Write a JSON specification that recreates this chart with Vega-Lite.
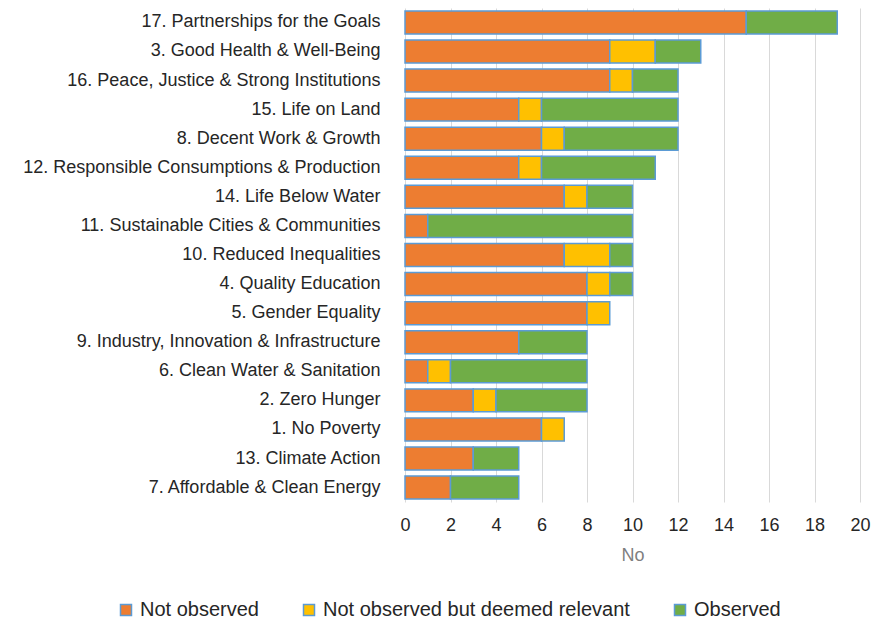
{
  "$schema": "https://vega.github.io/schema/vega-lite/v6.json",
  "autosize": {"type": "none"},
  "padding": {"left": 405, "top": 8, "right": 12, "bottom": 120},
  "width": 455,
  "height": 494,
  "background": "white",
  "config": {
    "font": "Liberation Sans",
    "view": {"stroke": null}
  },
  "data": {
    "values": [
      {"goal": "17. Partnerships for the Goals", "status": "Not observed", "k": 1, "n": 15},
      {"goal": "17. Partnerships for the Goals", "status": "Observed", "k": 3, "n": 4},
      {"goal": "3. Good Health & Well-Being", "status": "Not observed", "k": 1, "n": 9},
      {"goal": "3. Good Health & Well-Being", "status": "Not observed but deemed relevant", "k": 2, "n": 2},
      {"goal": "3. Good Health & Well-Being", "status": "Observed", "k": 3, "n": 2},
      {"goal": "16. Peace, Justice & Strong Institutions", "status": "Not observed", "k": 1, "n": 9},
      {"goal": "16. Peace, Justice & Strong Institutions", "status": "Not observed but deemed relevant", "k": 2, "n": 1},
      {"goal": "16. Peace, Justice & Strong Institutions", "status": "Observed", "k": 3, "n": 2},
      {"goal": "15. Life on Land", "status": "Not observed", "k": 1, "n": 5},
      {"goal": "15. Life on Land", "status": "Not observed but deemed relevant", "k": 2, "n": 1},
      {"goal": "15. Life on Land", "status": "Observed", "k": 3, "n": 6},
      {"goal": "8. Decent Work & Growth", "status": "Not observed", "k": 1, "n": 6},
      {"goal": "8. Decent Work & Growth", "status": "Not observed but deemed relevant", "k": 2, "n": 1},
      {"goal": "8. Decent Work & Growth", "status": "Observed", "k": 3, "n": 5},
      {"goal": "12. Responsible Consumptions & Production", "status": "Not observed", "k": 1, "n": 5},
      {"goal": "12. Responsible Consumptions & Production", "status": "Not observed but deemed relevant", "k": 2, "n": 1},
      {"goal": "12. Responsible Consumptions & Production", "status": "Observed", "k": 3, "n": 5},
      {"goal": "14. Life Below Water", "status": "Not observed", "k": 1, "n": 7},
      {"goal": "14. Life Below Water", "status": "Not observed but deemed relevant", "k": 2, "n": 1},
      {"goal": "14. Life Below Water", "status": "Observed", "k": 3, "n": 2},
      {"goal": "11. Sustainable Cities & Communities", "status": "Not observed", "k": 1, "n": 1},
      {"goal": "11. Sustainable Cities & Communities", "status": "Observed", "k": 3, "n": 9},
      {"goal": "10. Reduced Inequalities", "status": "Not observed", "k": 1, "n": 7},
      {"goal": "10. Reduced Inequalities", "status": "Not observed but deemed relevant", "k": 2, "n": 2},
      {"goal": "10. Reduced Inequalities", "status": "Observed", "k": 3, "n": 1},
      {"goal": "4. Quality Education", "status": "Not observed", "k": 1, "n": 8},
      {"goal": "4. Quality Education", "status": "Not observed but deemed relevant", "k": 2, "n": 1},
      {"goal": "4. Quality Education", "status": "Observed", "k": 3, "n": 1},
      {"goal": "5. Gender Equality", "status": "Not observed", "k": 1, "n": 8},
      {"goal": "5. Gender Equality", "status": "Not observed but deemed relevant", "k": 2, "n": 1},
      {"goal": "9. Industry, Innovation & Infrastructure", "status": "Not observed", "k": 1, "n": 5},
      {"goal": "9. Industry, Innovation & Infrastructure", "status": "Observed", "k": 3, "n": 3},
      {"goal": "6. Clean Water & Sanitation", "status": "Not observed", "k": 1, "n": 1},
      {"goal": "6. Clean Water & Sanitation", "status": "Not observed but deemed relevant", "k": 2, "n": 1},
      {"goal": "6. Clean Water & Sanitation", "status": "Observed", "k": 3, "n": 6},
      {"goal": "2. Zero Hunger", "status": "Not observed", "k": 1, "n": 3},
      {"goal": "2. Zero Hunger", "status": "Not observed but deemed relevant", "k": 2, "n": 1},
      {"goal": "2. Zero Hunger", "status": "Observed", "k": 3, "n": 4},
      {"goal": "1. No Poverty", "status": "Not observed", "k": 1, "n": 6},
      {"goal": "1. No Poverty", "status": "Not observed but deemed relevant", "k": 2, "n": 1},
      {"goal": "13. Climate Action", "status": "Not observed", "k": 1, "n": 3},
      {"goal": "13. Climate Action", "status": "Observed", "k": 3, "n": 2},
      {"goal": "7. Affordable & Clean Energy", "status": "Not observed", "k": 1, "n": 2},
      {"goal": "7. Affordable & Clean Energy", "status": "Observed", "k": 3, "n": 3}
    ]
  },
  "mark": {"type": "bar", "stroke": "#5B9BD5", "strokeWidth": 1.5},
  "encoding": {
    "y": {
      "field": "goal",
      "type": "nominal",
      "sort": [
        "17. Partnerships for the Goals",
        "3. Good Health & Well-Being",
        "16. Peace, Justice & Strong Institutions",
        "15. Life on Land",
        "8. Decent Work & Growth",
        "12. Responsible Consumptions & Production",
        "14. Life Below Water",
        "11. Sustainable Cities & Communities",
        "10. Reduced Inequalities",
        "4. Quality Education",
        "5. Gender Equality",
        "9. Industry, Innovation & Infrastructure",
        "6. Clean Water & Sanitation",
        "2. Zero Hunger",
        "1. No Poverty",
        "13. Climate Action",
        "7. Affordable & Clean Energy"
      ],
      "scale": {"paddingInner": 0.21, "paddingOuter": 0.1},
      "axis": {
        "title": null,
        "ticks": false,
        "domain": false,
        "labelFontSize": 18,
        "labelColor": "#262626",
        "labelPadding": 25,
        "labelLimit": 400
      }
    },
    "x": {
      "field": "n",
      "type": "quantitative",
      "stack": "zero",
      "scale": {"domain": [0, 20], "nice": false},
      "axis": {
        "title": "No",
        "titleFontSize": 18,
        "titleFontWeight": "normal",
        "titleColor": "#7f7f7f",
        "titlePadding": 12,
        "values": [0, 2, 4, 6, 8, 10, 12, 14, 16, 18, 20],
        "grid": true,
        "gridColor": "#d9d9d9",
        "gridWidth": 1,
        "ticks": false,
        "domain": false,
        "labelFlush": false,
        "labelFontSize": 18,
        "labelColor": "#262626",
        "labelPadding": 14
      }
    },
    "color": {
      "field": "status",
      "type": "nominal",
      "scale": {
        "domain": ["Not observed", "Not observed but deemed relevant", "Observed"],
        "range": ["#ED7D31", "#FFC000", "#70AD47"]
      },
      "legend": {
        "title": null,
        "orient": "none",
        "direction": "horizontal",
        "legendX": -289,
        "legendY": 592,
        "labelFontSize": 20,
        "labelColor": "#262626",
        "labelOffset": 4,
        "labelLimit": 600,
        "symbolType": "square",
        "symbolSize": 121,
        "symbolStrokeColor": "#5B9BD5",
        "symbolStrokeWidth": 1.5,
        "columnPadding": 40
      }
    },
    "order": {"field": "k", "type": "quantitative"}
  }
}
